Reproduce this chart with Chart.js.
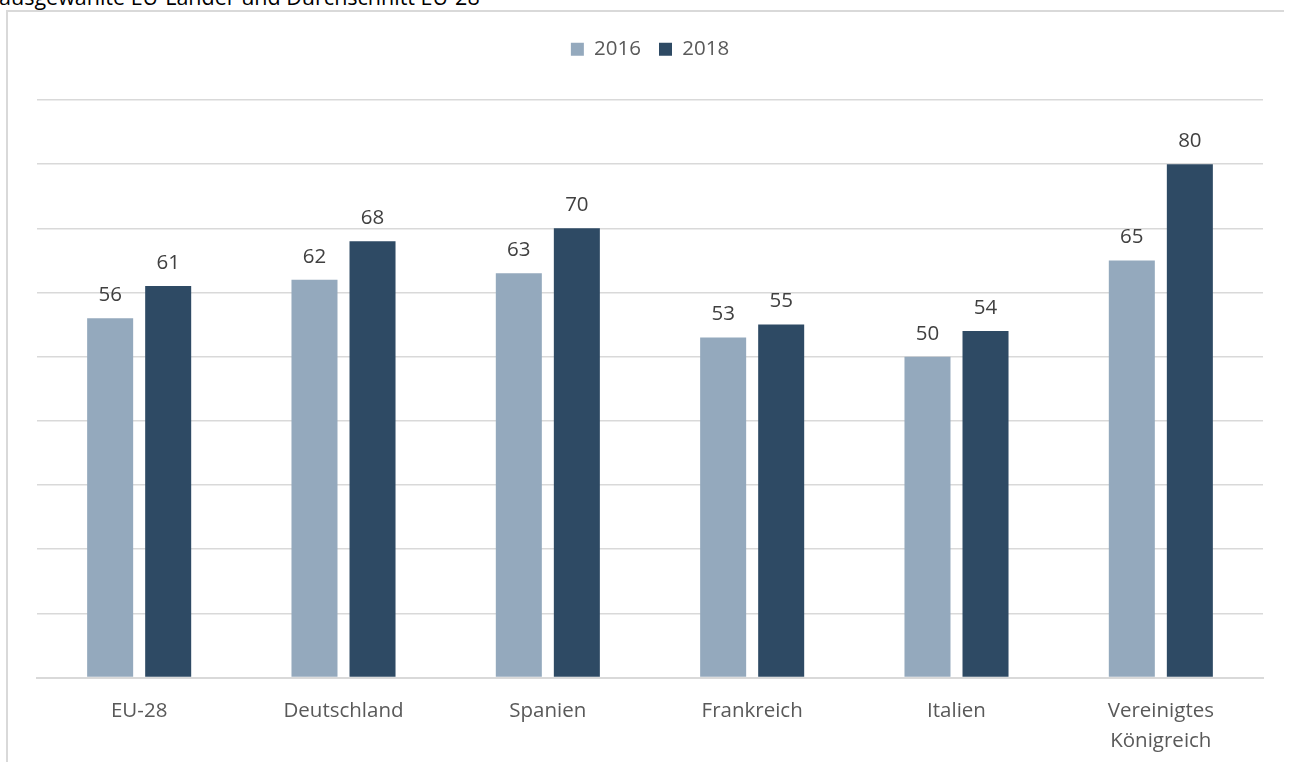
<!DOCTYPE html>
<html>
<head>
<meta charset="utf-8">
<script src="https://cdn.jsdelivr.net/npm/chart.js@4.4.1/dist/chart.umd.min.js"></script>
<style>
  html, body { margin: 0; padding: 0; background: #fff; overflow: hidden; height: 762px; }
  #title { position: absolute; left: -1px; top: -18px; font: 21.5px "Open Sans", sans-serif; color: #000; white-space: nowrap; }
  #frame { position: absolute; left: 6px; top: 10px; width: 1276px; height: 780px; border-left: 2px solid #d9d9d9; border-top: 2px solid #d9d9d9; }
  #wrap { position: absolute; left: 0; top: 0; width: 1291px; height: 783px; }
</style>
</head>
<body>
<div id="title">ausgewählte EU-Länder und Durchschnitt EU-28</div>
<div id="frame"></div>
<div id="wrap"><canvas id="barChart"></canvas></div>
<script>
var categories = ['EU-28', 'Deutschland', 'Spanien', 'Frankreich', 'Italien', ['Vereinigtes', 'Königreich']];
var values2016 = [56, 62, 63, 53, 50, 65];
var values2018 = [61, 68, 70, 55, 54, 80];
var seriesNames = ['2016', '2018'];

// values above the bars
var valueLabels = {
	id: 'valueLabels',
	afterDatasetsDraw: function(chart) {
		var ctx = chart.ctx;
		ctx.save();
		ctx.font = '20.5px "Open Sans", sans-serif';
		ctx.fillStyle = '#404040';
		ctx.textAlign = 'center';
		ctx.textBaseline = 'middle';
		chart.data.datasets.forEach(function(ds, i) {
			chart.getDatasetMeta(i).data.forEach(function(bar, j) {
				ctx.fillText(ds.data[j], bar.x, bar.y - 23);
			});
		});
		ctx.restore();
	}
};

// legend gets a fixed height so the plot starts where it should
var legendHeight = {
	id: 'legendHeight',
	beforeInit: function(chart) {
		var fit = chart.legend.fit;
		chart.legend.fit = function() {
			fit.bind(chart.legend)();
			this.height = 79;
		};
	}
};

var ctx = document.getElementById('barChart').getContext('2d');
var barChart = new Chart(ctx, {
	type: 'bar',
	data: {
		labels: categories,
		datasets: [
			{ label: seriesNames[0], data: values2016, backgroundColor: '#94a9bd', categoryPercentage: 0.568, barPercentage: 0.793 },
			{ label: seriesNames[1], data: values2018, backgroundColor: '#2e4a64', categoryPercentage: 0.568, barPercentage: 0.793 }
		]
	},
	options: {
		responsive: true,
		maintainAspectRatio: false,
		animation: false,
		layout: { padding: { left: 37, right: 28, top: 21, bottom: 8 } },
		plugins: {
			legend: {
				position: 'top',
				labels: {
					boxWidth: 13,
					boxHeight: 13,
					padding: 18,
					color: '#595959',
					font: { family: 'Open Sans', size: 20.5 }
				}
			},
			tooltip: { enabled: false }
		},
		scales: {
			x: {
				grid: { display: false, drawTicks: false },
				border: { display: true, color: '#d9d9d9', width: 2 },
				ticks: {
					color: '#595959',
					padding: 19,
					font: { family: 'Open Sans', size: 20.5, lineHeight: 1.45 }
				}
			},
			y: {
				min: 0,
				max: 90,
				ticks: { display: false, stepSize: 10 },
				grid: { color: '#d9d9d9', lineWidth: 1.5, drawTicks: false },
				border: { display: false }
			}
		}
	},
	plugins: [valueLabels, legendHeight]
});
</script>
</body>
</html>
